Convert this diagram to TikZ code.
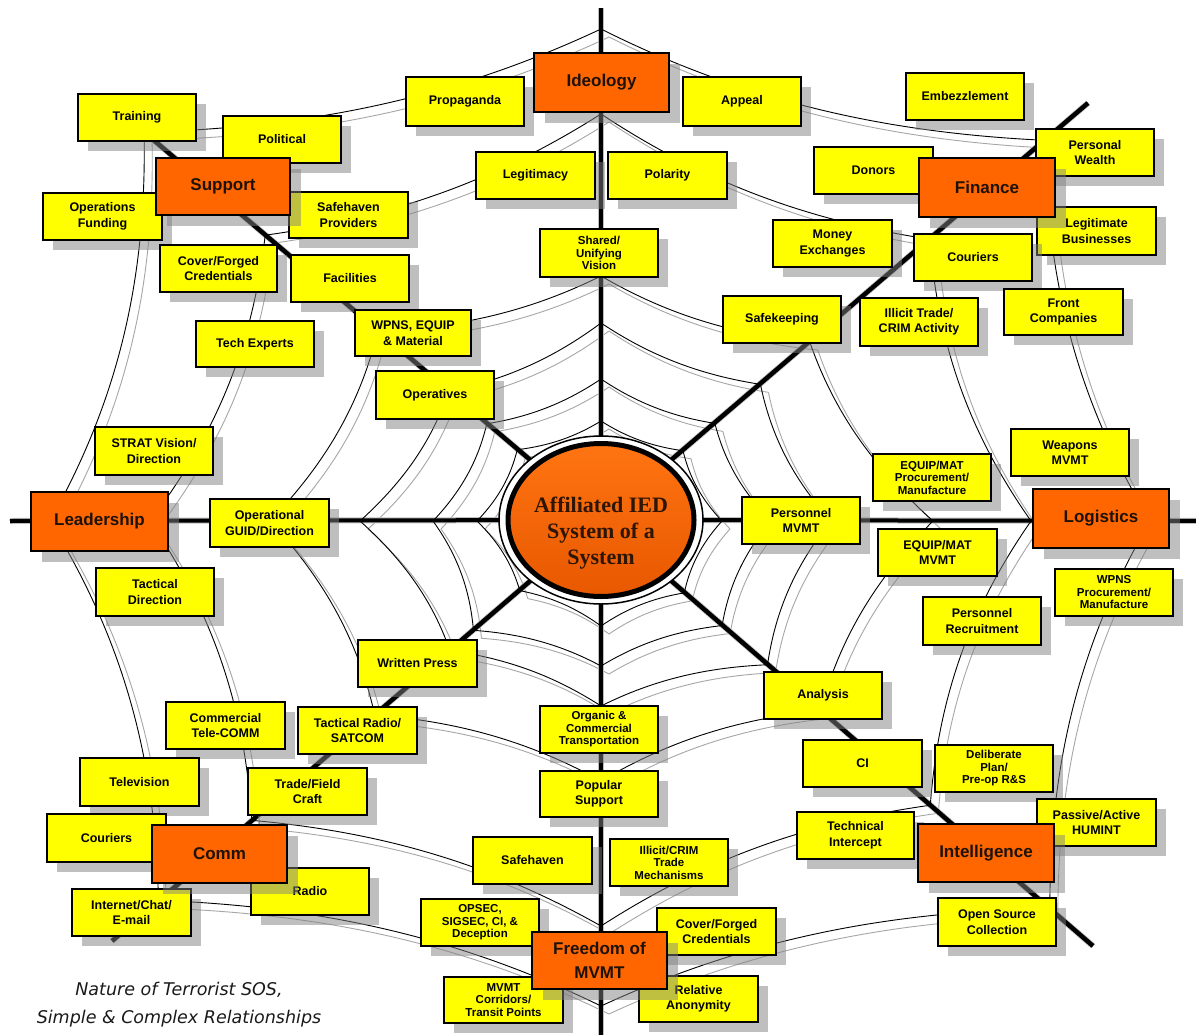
\documentclass[tikz,border=0pt]{standalone}
\usepackage{fontspec}
\setmainfont{Liberation Sans}
\newfontfamily\hubfont{Liberation Serif}
\newfontfamily\capfont{DejaVu Sans}
\usetikzlibrary{shadows,shapes.geometric}
\pgfdeclarelayer{bg}
\pgfsetlayers{bg,main}

\definecolor{ybg}{HTML}{FFFF00}
\definecolor{obg}{HTML}{FF6600}
\definecolor{otext}{HTML}{1E1208}
\definecolor{shd}{HTML}{BEBEBE}
\definecolor{webgray}{HTML}{A6A6A6}
\definecolor{hubtop}{HTML}{FF7412}
\definecolor{hubbot}{HTML}{E85800}
\definecolor{hubtext}{HTML}{2E1504}
\definecolor{captext}{HTML}{1A1A1A}

\tikzset{
  ybox/.style={draw=black, line width=2pt, fill=ybg, inner sep=0pt, align=center,
    font=\bfseries\fontsize{12.5}{15.5}\selectfont,
    drop shadow={shadow xshift=10pt, shadow yshift=-10pt, fill=black!50, opacity=0.5}},
  ybox3/.style={ybox, font=\bfseries\fontsize{11.5}{12.5}\selectfont},
  obox/.style={draw=black, line width=2.6pt, fill=obg, inner sep=0pt, align=center, text=otext,
    font=\bfseries\fontsize{17}{24}\selectfont,
    drop shadow={shadow xshift=11pt, shadow yshift=-11pt, fill=black!50, opacity=0.5}},
  spoke/.style={line width=4pt, black},
  spokeshadow/.style={line width=6pt, shd},
  webline/.style={line width=0.9pt, black},
  webshadow/.style={line width=0.9pt, webgray},
}

\newcommand\mkbox[7][ybox]{%
  \node[#1, minimum width={(#5-#3)*1pt}, minimum height={(#6-#4)*1pt}] (#2) at ({(#3+#5)/2},{(#4+#6)/2}) {#7};}

\def\sagf{0.93}
\newcommand\drawweb[1]{%
 \foreach \da/\db/\dc/\dd/\de/\df/\dg/\dh in {
   121/108/100/110/124/107/105/110,
   170/150/142/150/168/168/145/160,
   230/210/198/200/241/199/185/220,
   332/275/245/293/331/298/260/290,
   430/433/407/441/451/460/405/435,
   549/585/492/600/551/583/485/593}{%
  \foreach \ii in {0,...,7}{%
   \pgfmathtruncatemacro\jj{\ii+1}%
   \pgfmathsetmacro\angA{{0,40.6,90,139.6,180,220.6,270,319.2,360}[\ii]}%
   \pgfmathsetmacro\angB{{0,40.6,90,139.6,180,220.6,270,319.2,360}[\jj]}%
   \pgfmathsetmacro\rA{{\da,\db,\dc,\dd,\de,\df,\dg,\dh,\da}[\ii]}%
   \pgfmathsetmacro\rB{{\da,\db,\dc,\dd,\de,\df,\dg,\dh,\da}[\jj]}%
   \pgfmathsetmacro\xA{601+\rA*cos(\angA)}%
   \pgfmathsetmacro\yA{521-\rA*sin(\angA)}%
   \pgfmathsetmacro\xB{601+\rB*cos(\angB)}%
   \pgfmathsetmacro\yB{521-\rB*sin(\angB)}%
   \pgfmathsetmacro\cxA{601+\sagf*((2*\xA+\xB)/3-601)}%
   \pgfmathsetmacro\cyA{521+\sagf*((2*\yA+\yB)/3-521)}%
   \pgfmathsetmacro\cxB{601+\sagf*((\xA+2*\xB)/3-601)}%
   \pgfmathsetmacro\cyB{521+\sagf*((\yA+2*\yB)/3-521)}%
   \draw[#1] (\xA,\yA) .. controls (\cxA,\cyA) and (\cxB,\cyB) .. (\xB,\yB);
  }}}

\begin{document}
\begin{tikzpicture}[x=1pt,y=-1pt]
\useasboundingbox (0,0) rectangle (1196,1035);

% hub
\node[ellipse, draw=black, line width=1.5pt, fill=white, minimum width=204pt, minimum height=168pt, inner sep=0pt] (hubring) at (601,520) {};
\node[ellipse, draw=black, line width=5pt, top color=hubtop, bottom color=hubbot, minimum width=186pt, minimum height=153pt, inner sep=0pt] (hub) at (601,520) {};
\node[font=\hubfont\bfseries\fontsize{22}{26}\selectfont, text=hubtext, align=center] (hubtext) at (601,533) {Affiliated IED\\System of a\\System};

% spoke ends
\coordinate (eU) at (601,8);
\coordinate (eD) at (601,1040);
\coordinate (eL) at (10,521);
\coordinate (eR) at (1200,521);
\coordinate (eUR) at (1088,103);
\coordinate (eUL) at (130,120);
\coordinate (eLL) at (112,941);
\coordinate (eLR) at (1093,946);

\begin{pgfonlayer}{bg}
\fill[white] (0,0) rectangle (1196,1035);
\begin{scope}[shift={(8,8)}]
  \drawweb{webshadow}
\end{scope}
\begin{scope}[shift={(9,10)}]
  \foreach \e in {eU,eD,eL,eR,eUR,eUL,eLL,eLR} \draw[spokeshadow] (hub.center) -- (\e);
\end{scope}
\drawweb{webline}
\foreach \e in {eU,eD,eL,eR} \draw[spoke] (hub.center) -- (\e);
\foreach \e in {eUR,eUL,eLL,eLR} \draw[spoke, line width=4.5pt] (hub.center) -- (\e);
\end{pgfonlayer}

% yellow boxes
\mkbox{training}{78}{94}{196}{141}{Training}
\mkbox{political}{223}{116}{341}{163}{Political}
\mkbox{opsfund}{43}{193}{162}{240}{Operations\\Funding}
\mkbox{safeprov}{289}{192}{408}{238}{Safehaven\\Providers}
\mkbox{cover1}{160}{245}{277}{292}{Cover/Forged\\Credentials}
\mkbox{facilities}{291}{255}{409}{302}{Facilities}
\mkbox{techexp}{196}{321}{314}{367}{Tech Experts}
\mkbox{wpns}{355}{310}{471}{356}{WPNS, EQUIP\\\& Material}
\mkbox{operatives}{376}{371}{494}{419}{Operatives}
\mkbox{propaganda}{406}{77}{524}{126}{Propaganda}
\mkbox{appeal}{683}{77}{801}{126}{Appeal}
\mkbox{legitimacy}{476}{152}{595}{199}{Legitimacy}
\mkbox{polarity}{608}{152}{727}{199}{Polarity}
\mkbox[ybox3]{shared}{540}{229}{658}{277}{Shared/\\Unifying\\Vision}
\mkbox{safekeeping}{723}{296}{841}{343}{Safekeeping}
\mkbox{moneyex}{773}{220}{892}{267}{Money\\Exchanges}
\mkbox{embezzle}{906}{73}{1024}{120}{Embezzlement}
\mkbox{wealth}{1036}{129}{1154}{176}{Personal\\Wealth}
\mkbox{donors}{814}{147}{933}{194}{Donors}
\mkbox{legitbus}{1037}{207}{1156}{255}{Legitimate\\Businesses}
\mkbox{couriers1}{914}{234}{1032}{281}{Couriers}
\mkbox{illicit1}{860}{298}{978}{346}{Illicit Trade/\\CRIM Activity}
\mkbox{front}{1004}{289}{1123}{335}{Front\\Companies}
\mkbox{strat}{95}{427}{213}{475}{STRAT Vision/\\Direction}
\mkbox{opguid}{210}{499}{329}{547}{Operational\\GUID/Direction}
\mkbox{tactdir}{96}{568}{214}{616}{Tactical\\Direction}
\mkbox{persmvmt}{742}{497}{860}{544}{Personnel\\MVMT}
\mkbox[ybox3]{equipproc}{873}{454}{991}{501}{EQUIP/MAT\\Procurement/\\Manufacture}
\mkbox{weapons}{1011}{429}{1129}{476}{Weapons\\MVMT}
\mkbox{equipmvmt}{878}{529}{997}{576}{EQUIP/MAT\\MVMT}
\mkbox[ybox3]{wpnsproc}{1055}{569}{1173}{616}{WPNS\\Procurement/\\Manufacture}
\mkbox{persrec}{923}{597}{1041}{645}{Personnel\\Recruitment}
\mkbox{written}{358}{640}{477}{687}{Written Press}
\mkbox{analysis}{764}{672}{882}{719}{Analysis}
\mkbox{telecomm}{166}{702}{285}{749}{Commercial\\Tele-COMM}
\mkbox{tacradio}{298}{707}{417}{754}{Tactical Radio/\\SATCOM}
\mkbox{television}{80}{758}{199}{806}{Television}
\mkbox{tradecraft}{248}{768}{367}{815}{Trade/Field\\Craft}
\mkbox{couriers2}{47}{814}{166}{862}{Couriers}
\mkbox{radio}{251}{868}{369}{915}{Radio}
\mkbox{internet}{72}{889}{191}{936}{Internet/Chat/\\E-mail}
\mkbox[ybox3]{organic}{540}{706}{658}{753}{Organic \&\\Commercial\\Transportation}
\mkbox{popular}{540}{771}{658}{817}{Popular\\Support}
\mkbox{safehaven}{473}{837}{592}{884}{Safehaven}
\mkbox[ybox3]{illicit2}{610}{839}{728}{886}{Illicit/CRIM\\Trade\\Mechanisms}
\mkbox[ybox3]{opsec}{421}{899}{539}{946}{OPSEC,\\SIGSEC, CI, \&\\Deception}
\mkbox{cover2}{657}{908}{776}{955}{Cover/Forged\\Credentials}
\mkbox[ybox3]{corridors}{444}{977}{563}{1023}{MVMT\\Corridors/\\Transit Points}
\mkbox{anonymity}{639}{976}{758}{1022}{Relative\\Anonymity}
\mkbox{ci}{803}{740}{922}{787}{CI}
\mkbox[ybox3]{deliberate}{935}{745}{1053}{792}{Deliberate\\Plan/\\Pre-op R\&S}
\mkbox{techint}{797}{812}{914}{859}{Technical\\Intercept}
\mkbox{humint}{1037}{799}{1156}{846}{Passive/Active\\HUMINT}
\mkbox{osint}{938}{898}{1056}{946}{Open Source\\Collection}

% orange boxes
\mkbox[obox]{ideology}{534}{53}{669}{112}{Ideology}
\mkbox[obox]{support}{156}{158}{290}{215}{Support}
\mkbox[obox]{finance}{919}{158}{1055}{217}{Finance}
\mkbox[obox]{leadership}{31}{492}{168}{551}{Leadership}
\mkbox[obox]{logistics}{1033}{489}{1169}{548}{Logistics}
\mkbox[obox]{comm}{152}{825}{287}{883}{Comm}
\mkbox[obox]{intelligence}{918}{824}{1054}{882}{Intelligence}
\mkbox[obox]{freedom}{532}{932}{667}{989}{Freedom of\\MVMT}

% caption
\node[font=\capfont\itshape\fontsize{17.5}{28}\selectfont, text=captext, align=center] (caption) at (179,1005) {Nature of Terrorist SOS,\\Simple \& Complex Relationships};
\end{tikzpicture}
\end{document}
